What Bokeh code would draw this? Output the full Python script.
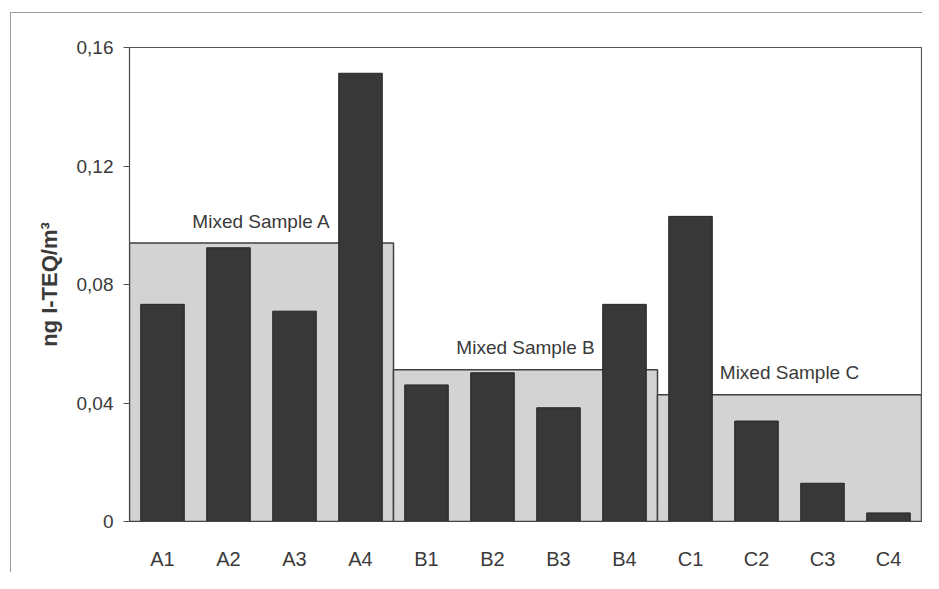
import numpy as np
from bokeh.plotting import figure
from bokeh.models import Range1d, FixedTicker, CustomJSTickFormatter, ColumnDataSource
from bokeh.core.properties import value
from bokeh.embed import file_html
from bokeh.resources import INLINE

# ---- data ----
categories = ["A1", "A2", "A3", "A4", "B1", "B2", "B3", "B4", "C1", "C2", "C3", "C4"]
values = [0.0733, 0.0924, 0.0710, 0.1513, 0.0461, 0.0502, 0.0384, 0.0733,
          0.1030, 0.0339, 0.0129, 0.0029]
groups = ["A", "B", "C"]
group_sizes = [4, 4, 4]
mixed_values = [0.0940, 0.0512, 0.0428]
mixed_labels = ["Mixed Sample A", "Mixed Sample B", "Mixed Sample C"]
y_ticks = [0, 0.04, 0.08, 0.12, 0.16]

FONT = "Liberation Sans"
TXT = "#3a3a3a"

xpos = np.arange(len(categories)) + 0.5
starts = np.concatenate([[0], np.cumsum(group_sizes)[:-1]])
ends = np.cumsum(group_sizes)

p = figure(width=912, height=560, output_backend="svg", toolbar_location=None,
           x_range=Range1d(0, len(categories)), y_range=Range1d(0, 0.16),
           min_border_left=118, min_border_top=34, min_border_bottom=52, min_border_right=2)
p.styles = {"border-top": "1px solid #9a9a9a", "border-left": "1px solid #9a9a9a",
            "margin-top": "12px", "margin-left": "10px"}
p.background_fill_color = "white"
p.border_fill_color = "white"
p.outline_line_color = "#555555"
p.outline_line_width = 1.2
p.grid.visible = False

# mixed sample background boxes
msrc = ColumnDataSource(dict(left=starts, right=ends, top=mixed_values,
                             bottom=[0] * len(groups),
                             cx=(starts + ends) / 2, label=mixed_labels))
p.quad(left="left", right="right", top="top", bottom="bottom", source=msrc,
       fill_color="#d3d3d3", line_color="#404040", line_width=1.5)

p.text(x="cx", y="top", text="label", source=msrc, y_offset=-22,
       text_align="center", text_baseline="middle", text_color=TXT,
       text_font=value(FONT), text_font_size="19px")

# sample bars
bsrc = ColumnDataSource(dict(x=xpos, top=values))
p.vbar(x="x", top="top", width=0.66, source=bsrc, fill_color="#383838",
       line_color="#262626", line_width=1)

# axes
p.xaxis.ticker = FixedTicker(ticks=list(xpos))
p.xaxis.major_label_overrides = {float(x): c for x, c in zip(xpos, categories)}
p.xaxis.major_tick_line_color = None
p.xaxis.minor_tick_line_color = None
p.xaxis.axis_line_color = "#444444"
p.xaxis.major_label_text_font = FONT
p.xaxis.major_label_text_font_size = "20px"
p.xaxis.major_label_text_color = TXT
p.xaxis.major_label_standoff = 20

p.yaxis.ticker = FixedTicker(ticks=y_ticks)
p.yaxis.formatter = CustomJSTickFormatter(
    code="return tick === 0 ? '0' : tick.toFixed(2).replace('.', ',');")
p.yaxis.minor_tick_line_color = None
p.yaxis.major_tick_in = 0
p.yaxis.major_tick_out = 6
p.yaxis.major_tick_line_color = "#555555"
p.yaxis.axis_line_color = "#444444"
p.yaxis.major_label_text_font = FONT
p.yaxis.major_label_text_font_size = "19px"
p.yaxis.major_label_text_color = TXT
p.yaxis.major_label_standoff = 10
p.yaxis.axis_label = "ng I-TEQ/m³"
p.yaxis.axis_label_text_font = FONT
p.yaxis.axis_label_text_font_style = "bold"
p.yaxis.axis_label_text_font_size = "22px"
p.yaxis.axis_label_text_color = TXT
p.yaxis.axis_label_standoff = 12

open("out.html", "w").write(file_html(p, INLINE))
